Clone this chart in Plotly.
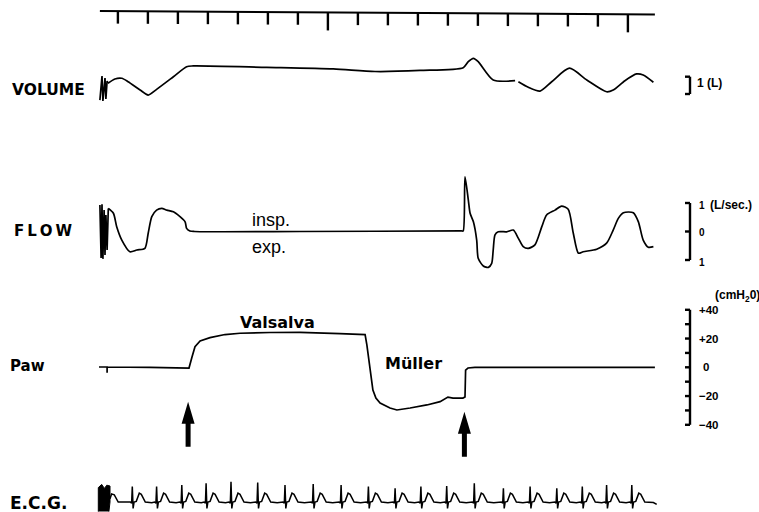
import plotly.graph_objects as go

# ---------------- data ----------------
# time marks of the recorder (s); long marks every 10 s
tick_times = list(range(0, 18))
long_tick_times = [7, 17]
ruler_start, ruler_end = -0.6, 17.9

# VOLUME (L)
vol_t = [-0.60, -0.53, -0.50, -0.43, -0.40,
         -0.36, -0.33, -0.10, 0.13, 0.34,
         0.74, 1.01, 1.29, 1.85, 2.29,
         2.51, 4.96, 7.18, 8.57, 10.07,
         11.51, 11.68, 11.85, 12.01, 12.51,
         13.24, None, 13.35, 13.68, 14.07,
         14.46, 15.05, 15.63, 16.29, 16.51,
         16.90, 17.29, 17.51, 17.85]
vol_v = [-0.35, 1.04, -0.40, 0.92, -0.29,
         0.75, 0.62, 0.87, 0.91, 0.71,
         0.23, -0.06, 0.27, 1.00, 1.58,
         1.62, 1.54, 1.45, 1.30, 1.36,
         1.52, 1.87, 2.06, 1.87, 0.81,
         0.77, None, 0.71, 0.39, 0.17,
         0.71, 1.49, 0.81, 0.13, 0.23,
         0.77, 1.16, 1.10, 0.68]

# FLOW (L/sec), inspiration positive
flow_t = [-0.60, -0.56, -0.53, -0.50, -0.46,
          -0.43, -0.40, -0.36, -0.32, -0.15,
          -0.04, 0.13, 0.40, 0.63, 0.90,
          1.01, 1.13, 1.29, 1.46, 1.63,
          1.85, 2.07, 2.24, 2.29, 2.40,
          2.55, 6.07, 11.45, 11.51, 11.57,
          11.68, 11.74, 11.85, 11.96, 12.01,
          12.18, 12.35, 12.46, 12.51, 12.57,
          12.68, 12.96, 13.18, 13.35, 13.51,
          13.68, 13.90, 14.13, 14.29, 14.57,
          14.79, 15.01, 15.18, 15.35, 15.51,
          15.96, 16.29, 16.51, 16.68, 16.85,
          17.18, 17.35, 17.51, 17.68, 17.85]
flow_v = [0.93, -0.93, 0.96, -0.96, 0.75,
          -0.82, 0.58, -0.65, 0.81, 0.64,
          0.17, -0.30, -0.71, -0.65, -0.59,
          -0.06, 0.52, 0.75, 0.81, 0.75,
          0.69, 0.52, 0.34, 0.11, 0.02,
          0.00, 0.00, 0.02, 0.02, 1.92,
          1.11, 0.64, 0.34, -0.30, -0.94,
          -1.21, -1.26, -1.12, -0.65, -0.12,
          -0.01, -0.01, 0.05, -0.24, -0.53,
          -0.59, -0.47, 0.17, 0.58, 0.75,
          0.89, 0.78, -0.06, -0.76, -0.71,
          -0.62, -0.41, 0.05, 0.46, 0.66,
          0.66, 0.34, -0.30, -0.55, -0.53]

# Paw (cmH2O)
paw_t = [-0.63, -0.40, -0.36, -0.36, -0.36,
         1.07, 2.30, 2.37, 2.47, 2.57,
         2.74, 3.07, 3.57, 4.07, 5.07,
         6.07, 7.40, 8.24, 8.30, 8.40,
         8.50, 8.60, 8.74, 9.07, 9.30,
         9.74, 10.30, 10.74, 11.00, 11.17,
         11.50, 11.57, 11.59, 11.67, 11.90,
         14.74, 17.90]
paw_v = [0.2, 0.2, 0.2, -3.8, 0.2,
         -0.1, -0.1, -0.5, 7.2, 14.3,
         18.3, 20.6, 22.8, 23.7, 24.2,
         24.3, 23.4, 22.7, 15.5, -1.9,
         -15.8, -21.4, -24.8, -28.3, -29.7,
         -28.3, -26.2, -23.9, -20.7, -21.4,
         -21.4, -20.7, -1.9, -0.5, 0.0,
         -0.1, 0.0]

# manoeuvre events (arrows): time (s) and Paw level at arrow tip
event_times = [2.34, 11.55]
event_tip_paw = [-24.0, -31.0]

# E.C.G. (mV): R-wave times and amplitudes
ecg_r_times = [0.48, 1.29, 2.13, 2.94, 3.77, 4.66, 5.57, 6.51, 7.44, 8.35,
               9.24, 10.10, 10.96, 11.88, 12.85, 13.74, 14.63, 15.48, 16.29, 17.13]
ecg_r_amp = [0.96, 0.96, 1.06, 1.17, 1.27, 1.21, 1.06, 1.12, 1.06, 0.96,
             0.86, 0.96, 1.00, 1.17, 0.86, 0.96, 0.86, 0.96, 1.06, 1.06]
# one beat (offset from R in s, value in mV; R replaced by amplitude)
beat_dt = [-0.067, -0.023, 0.0, 0.027, 0.06, 0.133, 0.233, 0.30, 0.433, 0.65]
beat_v = [0.0, -0.08, None, -0.40, 0.0, 0.04, 0.55, 0.48, 0.0, -0.05]
ecg_lead_t = [-0.263, -0.21, -0.12, 0.01]
ecg_lead_v = [0.2, 0.5, 0.45, 0.0]
ecg_tail_t = [17.85, 17.96]
ecg_tail_v = [-0.03, -0.15]
ecg_blob_t = [-0.653, -0.653, -0.54, -0.45, -0.37, -0.263, -0.263, -0.30]
ecg_blob_v = [-0.60, 0.90, 1.10, 0.85, 1.05, 1.00, 0.0, -0.60]

# calibration marks
vol_cal = [0, 1]
flow_cal = [-1, 0, 1]
paw_cal = [-40, -30, -20, -10, 0, 10, 20, 30, 40]
paw_cal_labels = {40: "+40", 20: "+20", 0: "0", -20: "\u221220", -40: "\u221240"}

# ---------------- layout geometry ----------------
W, H = 759, 512
PX_PER_S = 30.0
X0_PX = 117.9  # pixel of t = 0
SCRIBBLE_END = -0.32  # end of the initial pen scribble


def yrange(zero_px, px_per_unit):
    return [(zero_px - H) / px_per_unit, zero_px / px_per_unit]


fig = go.Figure()
line = dict(color="black", width=1.7)
common = dict(mode="lines", hoverinfo="skip", showlegend=False)


def add_channel(ts, vs, axis):
    # scribble drawn straight, the breathing trace smoothed
    k = max(i for i, t in enumerate(ts) if t is not None and t <= SCRIBBLE_END)
    fig.add_trace(go.Scatter(x=ts[:k + 1], y=vs[:k + 1], yaxis=axis, line=line, **common))
    fig.add_trace(go.Scatter(x=ts[k:], y=vs[k:], yaxis=axis,
                             line=dict(color="black", width=1.7, shape="spline", smoothing=0.7),
                             **common))


add_channel(vol_t, vol_v, "y")
add_channel(flow_t, flow_v, "y2")
fig.add_trace(go.Scatter(x=paw_t, y=paw_v, yaxis="y3", line=line, **common))

# ECG series assembled from beats
et, ev = list(ecg_lead_t), list(ecg_lead_v)
for rt, ra in zip(ecg_r_times, ecg_r_amp):
    for dt, v in zip(beat_dt, beat_v):
        et.append(rt + dt)
        ev.append(ra if v is None else v)
et += ecg_tail_t
ev += ecg_tail_v
fig.add_trace(go.Scatter(x=et, y=ev, yaxis="y4", line=dict(color="black", width=1.5), **common))
fig.add_trace(go.Scatter(x=ecg_blob_t, y=ecg_blob_v, yaxis="y4", fill="toself",
                         fillcolor="black", line=dict(color="black", width=1), **common))

# calibration bars
cal_x = (690 - X0_PX) / PX_PER_S
cal_len = 5 / PX_PER_S
cal_line = dict(color="black", width=2.4)


def bracket(vals, ticks):
    xs, ys = [cal_x, cal_x], [min(vals), max(vals)]
    for v in ticks:
        xs += [None, cal_x - cal_len, cal_x]
        ys += [None, v, v]
    return xs, ys


bx, by = bracket(vol_cal, vol_cal)
fig.add_trace(go.Scatter(x=bx, y=by, yaxis="y", line=cal_line, **common))
bx, by = bracket(flow_cal, flow_cal)
fig.add_trace(go.Scatter(x=bx, y=by, yaxis="y2", line=cal_line, **common))
bx, by = bracket(paw_cal, paw_cal)
fig.add_trace(go.Scatter(x=bx, y=by, yaxis="y3", line=cal_line, **common))

shapes = []
# time ruler at the top
ry_left, ry_right = 11.0, 14.5


def ruler_y(t):
    f = (t - ruler_start) / (ruler_end - ruler_start)
    return ry_left + f * (ry_right - ry_left)


shapes.append(dict(type="line", xref="x", yref="paper", x0=ruler_start, x1=ruler_end,
                   y0=1 - ry_left / H, y1=1 - ry_right / H,
                   line=dict(color="black", width=2)))
for t in tick_times:
    y_top = ruler_y(t)
    ln = 18 if t in long_tick_times else 12.5
    shapes.append(dict(type="line", xref="x", yref="paper", x0=t, x1=t,
                       y0=1 - y_top / H, y1=1 - (y_top + ln) / H,
                       line=dict(color="black", width=2.4)))

# thick arrows marking the manoeuvres
for t, tip in zip(event_times, event_tip_paw):
    shapes.append(dict(type="path", xref="x", yref="y3", xsizemode="pixel", ysizemode="pixel",
                       xanchor=t, yanchor=tip,
                       path="M0,0 L6.5,-22 L2.5,-22 L2.5,-45 L-2.5,-45 L-2.5,-22 L-6.5,-22 Z",
                       fillcolor="black", line=dict(width=0)))

BOLD = "DejaVu Sans"
HELV = "Liberation Sans"
ann = []


def label(text, x, y, xref, yref, size, family=BOLD, xanchor="left"):
    ann.append(dict(text=text, x=x, y=y, xref=xref, yref=yref, showarrow=False,
                    xanchor=xanchor, yanchor="middle",
                    font=dict(family=family, size=size, color="black")))


label("<b>VOLUME</b>", 10 / W, 1 - 90 / H, "paper", "paper", 15.5)
label("<b>F\u2009L\u2009O\u2009W</b>", 11.5 / W, 1 - 231 / H, "paper", "paper", 15)
label("<b>Paw</b>", 8 / W, 1 - 366 / H, "paper", "paper", 15)
label("<b>E.C.G.</b>", 8 / W, 1 - 502.5 / H, "paper", "paper", 17)

label("<b>Valsalva</b>", 5.32, 31.3, "x", "y3", 16, xanchor="center")
label("<b>Müller</b>", 9.84, 2.8, "x", "y3", 16, xanchor="center")
label("insp.", 4.40, 0.39, "x", "y2", 18, family=HELV)
label("exp.", 4.40, -0.53, "x", "y2", 18, family=HELV)

lab_x = (697 - X0_PX) / PX_PER_S
label("<b>1 (L)</b>", (695 - X0_PX) / PX_PER_S, 0.62, "x", "y", 12, family=HELV)
label("<b>1</b>", lab_x, 0.93, "x", "y2", 10, family=HELV)
label("<b>(L/sec.)</b>", (708 - X0_PX) / PX_PER_S, 0.93, "x", "y2", 12, family=HELV)
label("<b>0</b>", lab_x, -0.05, "x", "y2", 10, family=HELV)
label("<b>1</b>", lab_x, -1.10, "x", "y2", 10, family=HELV)
for v, s in paw_cal_labels.items():
    dx = 4 / PX_PER_S if v == 0 else 0
    label("<b>%s</b>" % s, lab_x + dx, v, "x", "y3", 11.5, family=HELV)
label("<b>(cmH<sub>2</sub>0)</b>", (713 - X0_PX) / PX_PER_S, 49.6, "x", "y3", 12, family=HELV)

hidden = dict(visible=False, fixedrange=True, domain=[0, 1])
fig.update_layout(
    width=W, height=H,
    margin=dict(l=0, r=0, t=0, b=0, pad=0),
    paper_bgcolor="white", plot_bgcolor="white",
    xaxis=dict(range=[-X0_PX / PX_PER_S, (W - X0_PX) / PX_PER_S], **hidden),
    yaxis=dict(range=yrange(94, 17.3), **hidden),
    yaxis2=dict(range=yrange(231.5, 28.5), overlaying="y", anchor="x", **hidden),
    yaxis3=dict(range=yrange(367.3, 1.4375), overlaying="y", anchor="x", **hidden),
    yaxis4=dict(range=yrange(502, 16), overlaying="y", anchor="x", **hidden),
    shapes=shapes,
    annotations=ann,
)

fig.write_html("out.html", config={"displayModeBar": False},
               post_script="document.body.style.margin='0';")
